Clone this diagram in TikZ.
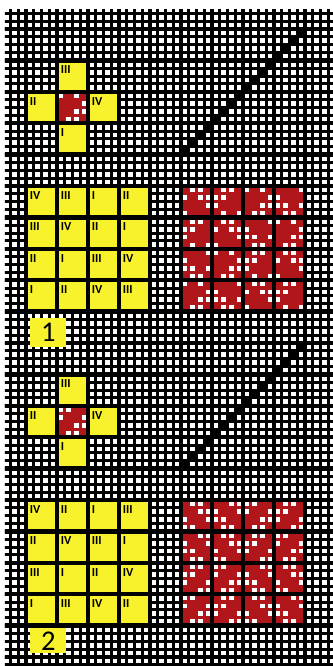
\documentclass[tikz,border=0pt]{standalone}
\usepackage{fontspec}
\setsansfont{Carlito}
\usetikzlibrary{positioning}
\definecolor{blockyellow}{RGB}{248,242,44}
\definecolor{weftred}  {RGB}{176,22,26}
% unit weaves (1 = red) and block plans (I=0, II=1, III=2, IV=3), row by row
\def\unitA{{0,1,0,1, 1,1,1,0, 1,1,0,0, 1,0,0,1}}
\def\unitB{{0,0,1,1, 0,1,1,0, 1,1,0,0, 1,0,0,1}}
\def\planA{{3,2,0,1, 2,3,1,0, 1,0,2,3, 0,1,3,2}}
\def\planB{{3,1,0,2, 1,3,2,0, 2,0,1,3, 0,2,3,1}}

\begin{document}
\begin{tikzpicture}[x=0.2cm, y=-0.20258cm,
  % cell pitch 7.75px across, 7.85px down; thick line every four cells
  fineline/.style={line width=2.2pt, black},
  thickline/.style={line width=3.2pt, black},
  block/.style={fill=blockyellow},
  numeral/.style={anchor=north west, inner sep=0pt,
                  font=\sffamily\bfseries\fontsize{9}{9}\selectfont},
  tagbox/.style={fill=blockyellow, draw=none, inner sep=0pt,
                 minimum width=0.93cm, minimum height=0.75cm,
                 font=\sffamily\fontsize{21}{21}\selectfont},
  redfill/.style={fill=weftred},
  hole/.style={fill=white},
  liftcell/.style={fill=black}
]
\useasboundingbox[fill=white] (-3.355,-3.694) rectangle (39.613,81.147);

% --- Grid ---
\begin{scope}
  \clip (-2.71,-2.42) rectangle (39.613,81.147);
  \foreach \i in {-3,...,39} \draw[fineline] (\i,-3) -- (\i,82);
  \foreach \j in {-3,...,81} \draw[fineline] (-3,\j) -- (40,\j);
\end{scope}

% --- Crosses (top and bottom) ---
\foreach \dy/\nm/\u in {0/a/unitA, 40/b/unitB} {
  \expandafter\let\expandafter\unitbits\csname\u\endcsname
  \fill[block] (4.28,4.28+\dy) rectangle +(3.44,3.44);
  \node[numeral] (\nm-iii) at (4.45,4.65+\dy) {III};
  \fill[block] (0.28,8.28+\dy) rectangle +(3.44,3.44);
  \node[numeral] (\nm-ii) at (0.45,8.65+\dy) {II};
  \fill[block] (8.28,8.28+\dy) rectangle +(3.44,3.44);
  \node[numeral] (\nm-iv) at (8.45,8.65+\dy) {IV};
  \fill[block] (4.28,12.28+\dy) rectangle +(3.44,3.44);
  \node[numeral] (\nm-i) at (4.45,12.65+\dy) {I};
  % unit weave in the centre
  \fill[redfill] (4.28,8.28+\dy) rectangle +(3.44,3.44);
  \foreach \ri in {0,...,3} {
    \foreach \ci in {0,...,3} {
      \pgfmathtruncatemacro{\vv}{\unitbits[4*\ri+\ci]}
      \ifnum\vv=0 \fill[hole] (4.2+\ci,8.2+\ri+\dy) rectangle +(0.6,0.6); \fi
    }
  }
}

% --- Block plans ---
\foreach \dy/\nm/\plan in {20/p/{{IV,III,I,II},{III,IV,II,I},{II,I,III,IV},{I,II,IV,III}},
                           60/q/{{IV,II,I,III},{II,IV,III,I},{III,I,II,IV},{I,III,IV,II}}} {
  \foreach \labs [count=\r from 0] in \plan {
    \foreach \lab [count=\c from 0] in \labs {
      \fill[block] (4*\c+0.28,4*\r+0.28+\dy) rectangle +(3.44,3.44);
      \node[numeral] (\nm-\r-\c) at (4*\c+0.45,4*\r+0.65+\dy) {\lab};
    }
  }
}

% --- Drawdowns: each block is the unit turned by its numeral ---
\foreach \dy/\u/\p in {20/unitA/planA, 60/unitB/planB} {
  \expandafter\let\expandafter\unitbits\csname\u\endcsname
  \expandafter\let\expandafter\planbits\csname\p\endcsname
  \fill[redfill] (20.28,0.28+\dy) rectangle (35.72,15.72+\dy);
  \foreach \R in {0,...,15} {
    \foreach \C in {0,...,15} {
      \pgfmathtruncatemacro{\kk}{\planbits[4*div(\R,4)+div(\C,4)]}
      \pgfmathtruncatemacro{\ri}{mod(\R,4)}
      \pgfmathtruncatemacro{\ci}{mod(\C,4)}
      \pgfmathtruncatemacro{\sr}{\kk==0 ? \ri : (\kk==1 ? 3-\ci : (\kk==2 ? 3-\ri : \ci))}
      \pgfmathtruncatemacro{\sc}{\kk==0 ? \ci : (\kk==1 ? \ri : (\kk==2 ? 3-\ci : 3-\ri))}
      \pgfmathtruncatemacro{\vv}{\unitbits[4*\sr+\sc]}
      \ifnum\vv=0 \fill[hole] (20.2+\C,0.2+\R+\dy) rectangle +(0.6,0.6); \fi
    }
  }
}

% --- Straight draws ---
\foreach \dy in {0,40}
  \foreach \k in {0,...,15}
    \fill[liftcell] (20+\k,15-\k+\dy) rectangle +(1,1);

% --- Thick lines ---
\begin{scope}
  \clip (-2.71,-2.42) rectangle (39.613,81.147);
  \foreach \i in {0,4,...,36} \draw[thickline] (\i,-3) -- (\i,82);
  \foreach \j in {0,4,...,80} \draw[thickline] (-3,\j) -- (40,\j);
\end{scope}

% --- Tags ---
\node[tagbox] (tag1) at (2.88,38.7) {1};
\node[tagbox, anchor=north, minimum height=0.65cm] (tag2) at (2.88,76.3) {2};
\end{tikzpicture}
\end{document}
